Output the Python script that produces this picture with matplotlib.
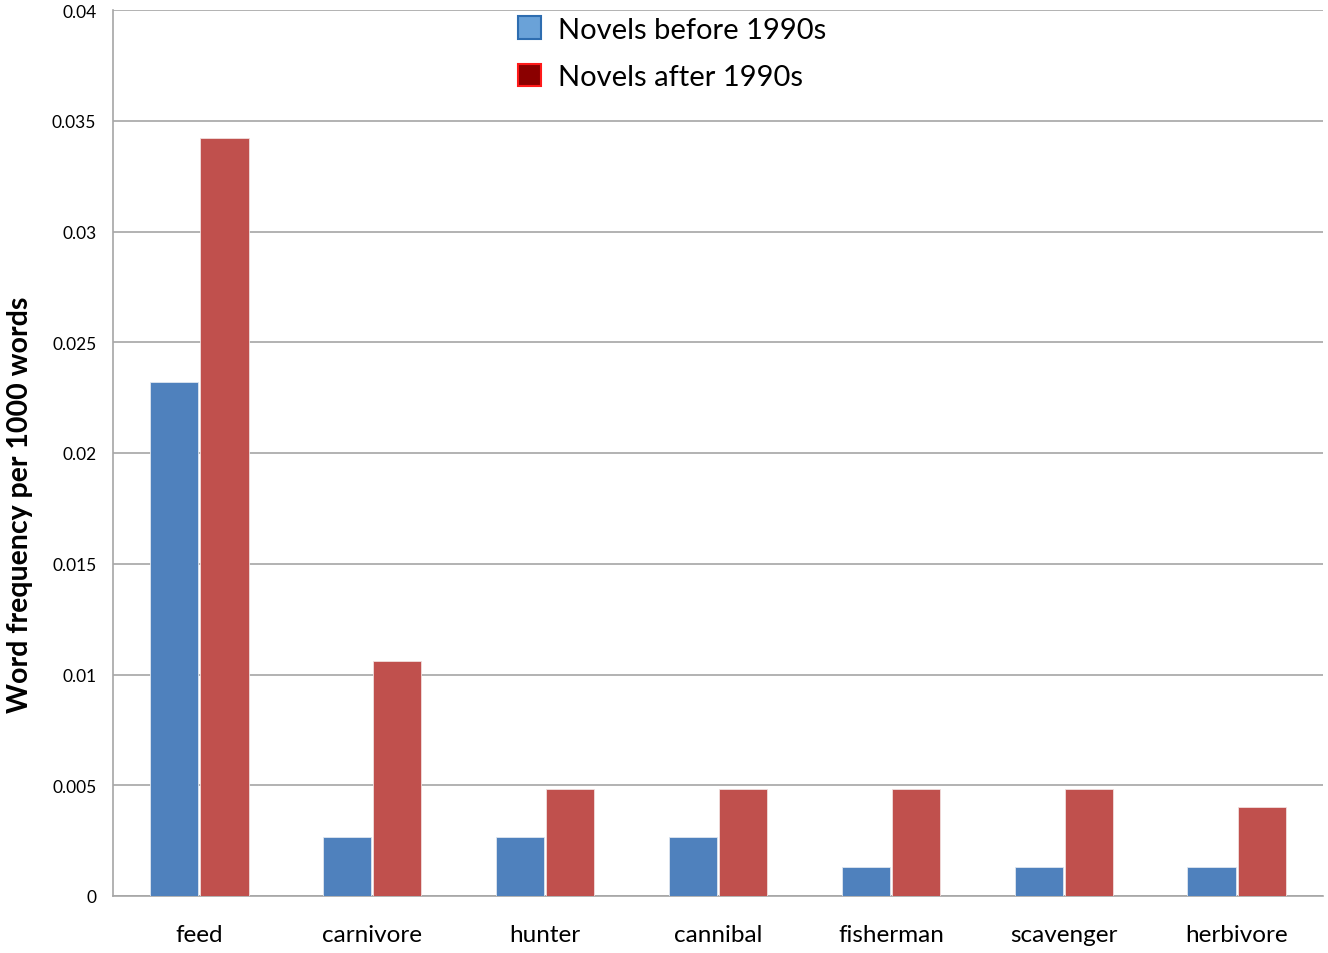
import matplotlib
matplotlib.use("Agg")
import matplotlib.pyplot as plt
from matplotlib.patches import Patch
import numpy as np

categories = ["feed", "carnivore", "hunter", "cannibal", "fisherman", "scavenger", "herbivore"]
before_1990s = [0.0232, 0.00267, 0.00267, 0.00267, 0.00133, 0.00133, 0.00133]
after_1990s = [0.0342, 0.0106, 0.00484, 0.00484, 0.00484, 0.00484, 0.00403]
yticks = [0, 0.005, 0.01, 0.015, 0.02, 0.025, 0.03, 0.035, 0.04]
yticklabels = ["0", "0.005", "0.01", "0.015", "0.02", "0.025", "0.03", "0.035", "0.04"]

plt.rcParams['font.family'] = ['Lato', 'DejaVu Sans']

fig = plt.figure(figsize=(13.28, 9.54), dpi=100)
ax = fig.add_axes([113/1328, 57/954, 1210/1328, 886/954])

x = np.arange(len(categories))
w = 0.278
ax.bar(x - w/2 - 0.006, before_1990s, width=w, color="#4f81bd", edgecolor="#dfe6f0", linewidth=0.6, zorder=3)
ax.bar(x + w/2 + 0.006, after_1990s, width=w, color="#c0504d", edgecolor="#f0dede", linewidth=0.6, zorder=3)

ax.set_xlim(-0.5, len(categories) - 0.5)
ax.set_ylim(0, 0.04)
ax.set_yticks(yticks)
ax.set_yticklabels(yticklabels, fontsize=12.5)
ax.set_xticks(x)
ax.set_xticklabels(categories, fontsize=17.5)
ax.tick_params(axis='both', length=0)
ax.tick_params(axis='y', pad=12)
ax.tick_params(axis='x', pad=20)
ax.yaxis.grid(True, color="#a6a6a6", linewidth=1.2, zorder=0)
ax.set_axisbelow(True)
for s in ["top", "right"]:
    ax.spines[s].set_visible(False)
for s in ["left", "bottom"]:
    ax.spines[s].set_color("#a6a6a6")
    ax.spines[s].set_linewidth(1.2)

ax.set_ylabel("Word frequency per 1000 words", fontsize=20.5, fontweight="bold")
ax.yaxis.set_label_coords(-0.066, 0.443)

handles = [Patch(facecolor="#6aa2d8", edgecolor="#2e6db0", linewidth=1.5, label="Novels before 1990s"),
           Patch(facecolor="#8b0000", edgecolor="#ff1a1a", linewidth=1.5, label="Novels after 1990s")]
leg = ax.legend(handles=handles, loc="upper left", bbox_to_anchor=(393/1210, 1.006), frameon=False,
                fontsize=21, handlelength=0.8, handleheight=0.8, labelspacing=0.72, handletextpad=0.6,
                borderaxespad=0.0)

fig.savefig("out.png", dpi=100)
